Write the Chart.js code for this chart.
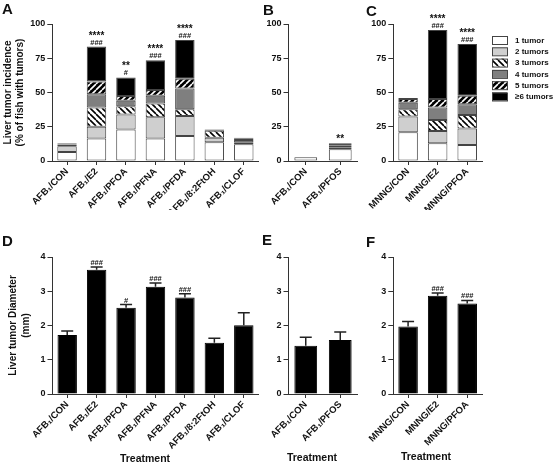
<!DOCTYPE html>
<html>
<head>
<meta charset="utf-8">
<script src="https://cdn.jsdelivr.net/npm/chart.js@4.4.1/dist/chart.umd.min.js"></script>
<style>
  html, body { margin: 0; padding: 0; background: #fff; }
  body { width: 553px; height: 467px; position: relative; overflow: hidden;
         font-family: 'Liberation Sans', Arial, sans-serif; }
  canvas { position: absolute; }
  .lab { position: absolute; font-weight: bold; color: #111; line-height: 1; }
  .panel { font-size: 15px; }
  .xt { font-size: 10.5px; transform: translateX(-50%); white-space: nowrap; }
</style>
</head>
<body>
<canvas id="cA" width="262" height="210" style="left:0;top:0"></canvas>
<canvas id="cB" width="98" height="210" style="left:262px;top:0"></canvas>
<canvas id="cC" width="193" height="210" style="left:360px;top:0"></canvas>
<canvas id="cD" width="262" height="257" style="left:0;top:210px"></canvas>
<canvas id="cE" width="98" height="257" style="left:262px;top:210px"></canvas>
<canvas id="cF" width="193" height="257" style="left:360px;top:210px"></canvas>

<div class="lab panel" style="left:2px;top:1px">A</div>
<div class="lab panel" style="left:263px;top:2px">B</div>
<div class="lab panel" style="left:366px;top:3px">C</div>
<div class="lab panel" style="left:2px;top:233px">D</div>
<div class="lab panel" style="left:262px;top:232px">E</div>
<div class="lab panel" style="left:366px;top:234px">F</div>

<div class="lab xt" style="left:145px;top:453px">Treatment</div>
<div class="lab xt" style="left:312px;top:452px">Treatment</div>
<div class="lab xt" style="left:426px;top:451px">Treatment</div>

<script>
// categories
const catsA = ["AFB₁/CON", "AFB₁/E2", "AFB₁/PFOA", "AFB₁/PFNA", "AFB₁/PFDA", "AFB₁/8:2FtOH", "AFB₁/CLOF"];
const catsB = ["AFB₁/CON", "AFB₁/PFOS"];
const catsC = ["MNNG/CON", "MNNG/E2", "MNNG/PFOA"];
const tumorLabels = ["1 tumor", "2 tumors", "3 tumors", "4 tumors", "5 tumors", "≥6 tumors"];

// tick labels
const pctTicks = [0, 25, 50, 75, 100];
const mmTicks = [0, 1, 2, 3, 4];

// A: % of fish with n tumors
const oneA   = [6.5, 16.5, 23, 16.5, 18.2, 13.6, 12.2];
const twoA   = [4.2, 8.5, 11, 15.5, 14.6, 3.4, 1.4];
const threeA = [0, 14, 6, 10, 4.9, 5, 0];
const fourA  = [1.3, 9.7, 4, 5.7, 15.3, 1, 1.8];
const fiveA  = [0.8, 9.3, 3.5, 4.1, 7, 0, 1.2];
const sixA   = [0.4, 25.5, 13.5, 21.7, 28.3, 0, 0.4];

// B
const oneB   = [2.8, 8.5];
const twoB   = [0, 1.5];
const threeB = [0, 0];
const fourB  = [0, 1.2];
const fiveB  = [0, 0];
const sixB   = [0, 1.7];

// C
const oneC   = [21, 12.9, 11.7];
const twoC   = [11.4, 9, 12.1];
const threeC = [5.3, 8.1, 9.8];
const fourC  = [4.9, 9, 7.8];
const fiveC  = [2.7, 6.3, 6.3];
const sixC   = [0.7, 50.3, 37.7];

// significance marks
const starsA = ["", "****", "**", "****", "****", "", ""];
const hashA  = ["", "###", "#", "###", "###", "", ""];
const starsB = ["", "**"];
const starsC = ["", "****", "****"];
const hashC  = ["", "###", "###"];

// D-F: tumor diameter (mm), mean and SEM
const meanD = [1.72, 3.63, 2.52, 3.13, 2.82, 1.5, 2.01];
const semD  = [0.12, 0.08, 0.09, 0.11, 0.11, 0.13, 0.36];
const hashD = ["", "###", "#", "###", "###", "", ""];
const meanE = [1.41, 1.58];
const semE  = [0.25, 0.23];
const meanF = [1.97, 2.87, 2.64];
const semF  = [0.15, 0.08, 0.09];
const hashF = ["", "###", "###"];

const FONT = "'Liberation Sans', Arial, sans-serif";
const AX = "#333";
const TXT = "#111";

function hatch(bg, fg, dir) {
  const c = document.createElement("canvas");
  c.width = c.height = 6;
  const g = c.getContext("2d");
  g.fillStyle = bg;
  g.fillRect(0, 0, 6, 6);
  g.strokeStyle = fg;
  g.lineWidth = 1.6;
  g.beginPath();
  for (const k of [-6, 0, 6]) {
    if (dir > 0) { g.moveTo(k, 6); g.lineTo(k + 6, 0); }   // "/"
    else { g.moveTo(k, 0); g.lineTo(k + 6, 6); }           // "\"
  }
  g.stroke();
  return g.createPattern(c, "repeat");
}

const fills = ["#ffffff", "#cfcfcf", hatch("#ffffff", "#000000", -1), "#7f7f7f", hatch("#000000", "#ffffff", 1), "#000000"];

function stackSets(series) {
  return series.map((data, k) => ({
    label: tumorLabels[k],
    data: data,
    backgroundColor: fills[k],
    borderColor: "#444",
    borderWidth: 1,
    borderSkipped: false,
    barPercentage: 0.66,
    categoryPercentage: 1
  }));
}

function totals(series, n) {
  const t = [];
  for (let i = 0; i < n; i++) t.push(series.reduce((s, a) => s + a[i], 0));
  return t;
}

// error bars + significance marks
const marks = {
  id: "marks",
  afterDatasetsDraw(chart, args, o) {
    if (!o || !o.top) return;
    const ctx = chart.ctx;
    const x = chart.scales.x, y = chart.scales.y;
    ctx.save();
    o.top.forEach((t, i) => {
      const px = x.getPixelForValue(i);
      let py = y.getPixelForValue(t);
      if (o.err) {
        const pe = y.getPixelForValue(t + o.err[i]);
        ctx.strokeStyle = "#222";
        ctx.lineWidth = 1.5;
        ctx.beginPath();
        ctx.moveTo(px, py);
        ctx.lineTo(px, pe);
        ctx.moveTo(px - 6, pe);
        ctx.lineTo(px + 6, pe);
        ctx.stroke();
        py = pe;
      }
      ctx.fillStyle = TXT;
      ctx.textAlign = "center";
      ctx.textBaseline = "alphabetic";
      const h = o.hash ? o.hash[i] : "";
      const s = o.stars ? o.stars[i] : "";
      if (h) {
        ctx.font = "bold 7.5px " + FONT;
        ctx.fillText(h, px, py - 2);
      }
      if (s) {
        ctx.font = "bold 10px " + FONT;
        ctx.fillText(s, px, h ? py - 8 : py - 1.5);
      }
    });
    ctx.restore();
  }
};

const tumorLegend = {
  id: "tumorLegend",
  afterDraw(chart, args, o) {
    if (!o || !o.show) return;
    const ctx = chart.ctx;
    ctx.save();
    chart.data.datasets.forEach((ds, i) => {
      const y = o.top + i * o.step;
      ctx.fillStyle = ds.backgroundColor;
      ctx.fillRect(o.left, y, 15, 8);
      ctx.strokeStyle = "#444";
      ctx.lineWidth = 1;
      ctx.strokeRect(o.left + 0.5, y + 0.5, 15, 8);
      ctx.fillStyle = TXT;
      ctx.font = "bold 8px " + FONT;
      ctx.textAlign = "left";
      ctx.textBaseline = "middle";
      ctx.fillText(ds.label, o.left + 23, y + 4.5);
    });
    ctx.restore();
  }
};

function makeChart(id, cats, datasets, ticks, o) {
  return new Chart(document.getElementById(id), {
    type: "bar",
    data: { labels: cats, datasets: datasets },
    options: {
      responsive: false,
      animation: false,
      layout: { padding: { top: o.top, right: o.right, left: 0, bottom: 0 } },
      plugins: {
        legend: { display: false },
        tooltip: { enabled: false },
        marks: o.marks,
        tumorLegend: o.legend || { show: false }
      },
      scales: {
        x: {
          stacked: true,
          offset: true,
          grid: { offset: false, drawOnChartArea: false, tickLength: 4, tickColor: AX },
          border: { color: AX, width: 1 },
          ticks: { autoSkip: false, minRotation: 45, maxRotation: 45, padding: 1, color: TXT,
                   font: { family: FONT, size: 9.5, weight: "bold" } },
          afterFit: s => { s.height = o.xh; }
        },
        y: {
          stacked: true,
          min: ticks[0],
          max: ticks[ticks.length - 1],
          ticks: { stepSize: ticks[1] - ticks[0], padding: 2, color: TXT,
                   font: { family: FONT, size: 9, weight: "bold" } },
          grid: { drawOnChartArea: false, tickLength: 5, tickColor: AX },
          border: { color: AX, width: 1 },
          title: {
            display: !!o.ytitle,
            text: o.ytitle || "",
            color: TXT,
            padding: { top: o.tpad || 0, bottom: 0 },
            font: { family: FONT, size: 10, weight: "bold", lineHeight: o.tlh || 1.2 }
          },
          afterFit: s => { s.width = o.yw; }
        }
      }
    },
    plugins: [marks, tumorLegend]
  });
}

const seriesA = [oneA, twoA, threeA, fourA, fiveA, sixA];
const seriesB = [oneB, twoB, threeB, fourB, fiveB, sixB];
const seriesC = [oneC, twoC, threeC, fourC, fiveC, sixC];

makeChart("cA", catsA, stackSets(seriesA), pctTicks, {
  top: 24, right: 3.5, xh: 49, yw: 52.3, tpad: 2, tlh: 1.2,
  ytitle: ["Liver tumor incidence", "(% of fish with tumors)"],
  marks: { top: totals(seriesA, catsA.length), stars: starsA, hash: hashA }
});

makeChart("cB", catsB, stackSets(seriesB), pctTicks, {
  top: 24, right: 2.5, xh: 49, yw: 26.5,
  marks: { top: totals(seriesB, catsB.length), stars: starsB }
});

makeChart("cC", catsC, stackSets(seriesC), pctTicks, {
  top: 24, right: 71, xh: 49, yw: 33.3,
  marks: { top: totals(seriesC, catsC.length), stars: starsC, hash: hashC },
  legend: { show: true, left: 132, top: 36, step: 11.3 }
});

function meanSet(data) {
  return [{ label: "Diameter", data: data, backgroundColor: "#000", borderColor: "#000",
            borderWidth: 1, barPercentage: 0.66, categoryPercentage: 1 }];
}

makeChart("cD", catsA, meanSet(meanD), mmTicks, {
  top: 47, right: 3.5, xh: 73, yw: 52.5, tpad: 6, tlh: 1.35,
  ytitle: ["Liver tumor Diameter", "(mm)"],
  marks: { top: meanD, err: semD, hash: hashD }
});

makeChart("cE", catsB, meanSet(meanE), mmTicks, {
  top: 47, right: 2.5, xh: 73, yw: 26.5,
  marks: { top: meanE, err: semE }
});

makeChart("cF", catsC, meanSet(meanF), mmTicks, {
  top: 47, right: 71, xh: 73, yw: 33.3,
  marks: { top: meanF, err: semF, hash: hashF }
});
</script>
</body>
</html>
